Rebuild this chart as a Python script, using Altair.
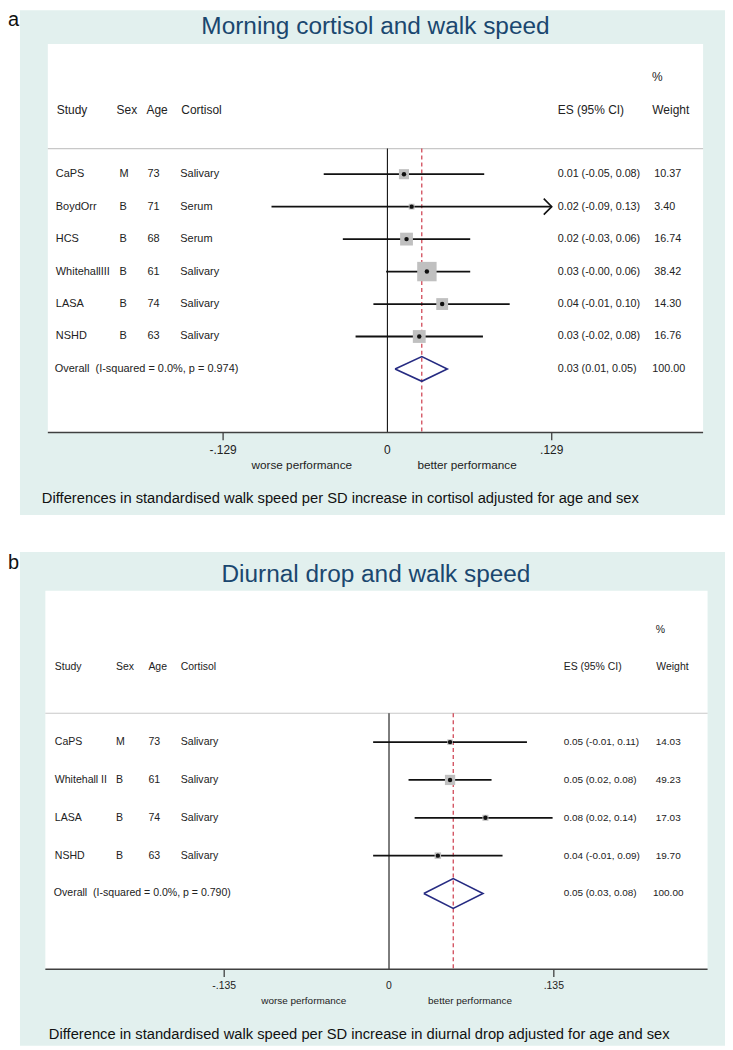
import altair as alt
import pandas as pd

GREEN = "#e2f0ee"
TITLE_BLUE = "#1a476f"
NAVY = "#262b82"
RED = "#c8283a"
BOX_GREY = "#c0c0c0"
FONT = "Liberation Sans"

# ---------------- Panel a data ----------------
a_title = "Morning cortisol and walk speed"
a_letter = "a"
a_study = ["CaPS", "BoydOrr", "HCS", "WhitehallIII", "LASA", "NSHD"]
a_sex = ["M", "B", "B", "B", "B", "B"]
a_age = ["73", "71", "68", "61", "74", "63"]
a_cortisol = ["Salivary", "Serum", "Serum", "Salivary", "Salivary", "Salivary"]
a_es = [0.013, 0.019, 0.015, 0.031, 0.043, 0.025]
a_lo = [-0.050, -0.091, -0.035, -0.001, -0.011, -0.025]
a_hi = [0.076, 0.131, 0.065, 0.065, 0.096, 0.075]
a_weight = [10.37, 3.40, 16.74, 38.42, 14.30, 16.76]
a_es_text = ["0.01 (-0.05, 0.08)", "0.02 (-0.09, 0.13)", "0.02 (-0.03, 0.06)",
             "0.03 (-0.00, 0.06)", "0.04 (-0.01, 0.10)", "0.03 (-0.02, 0.08)"]
a_overall = [0.027, 0.006, 0.047]
a_overall_text = "0.03 (0.01, 0.05)"
a_overall_weight = "100.00"
a_het = "Overall\u00a0 (I-squared = 0.0%, p = 0.974)"
a_ticks = [-0.129, 0.0, 0.129]
a_tick_labels = ["-.129", "0", ".129"]
a_footnote = "Differences in standardised walk speed per SD increase in cortisol adjusted for age and sex"

# ---------------- Panel b data ----------------
b_title = "Diurnal drop and walk speed"
b_letter = "b"
b_study = ["CaPS", "Whitehall II", "LASA", "NSHD"]
b_sex = ["M", "B", "B", "B"]
b_age = ["73", "61", "74", "63"]
b_cortisol = ["Salivary", "Salivary", "Salivary", "Salivary"]
b_es = [0.050, 0.050, 0.079, 0.040]
b_lo = [-0.013, 0.016, 0.021, -0.013]
b_hi = [0.113, 0.084, 0.134, 0.093]
b_weight = [14.03, 49.23, 17.03, 19.70]
b_es_text = ["0.05 (-0.01, 0.11)", "0.05 (0.02, 0.08)", "0.08 (0.02, 0.14)", "0.04 (-0.01, 0.09)"]
b_overall = [0.0526, 0.0285, 0.077]
b_overall_text = "0.05 (0.03, 0.08)"
b_overall_weight = "100.00"
b_het = "Overall\u00a0 (I-squared = 0.0%, p = 0.790)"
b_ticks = [-0.135, 0.0, 0.135]
b_tick_labels = ["-.135", "0", ".135"]
b_footnote = "Difference in standardised walk speed per SD increase in diurnal drop adjusted for age and sex"

headers = ["Study", "Sex", "Age", "Cortisol"]
perf_labels = ["worse performance", "better performance"]

# ---------------- layout (pixels, view coordinates) ----------------
LAY_A = dict(W=708, H=507, white=(28, 686, 34, 424), title_x=357, title_y=17, title_size=24.5,
             letter_y=10, pct_y=67, head_y=100, hline_y=139, axis_y=424, tick_y=442, perf_y=457,
             perf_x=(283, 449), foot_x=22, foot_y=491, foot_size=14.8, rows=(164.7, 360.3),
             xrange=(204, 534), cols=(36, 100, 128, 161), head_cols=(37, 97, 127, 162),
             es_x=540, w_x=637, w_align="left", pct_x=640, weight_head_x=635,
             row_size=11, head_size=12, es_size=10.8, tick_size=12, perf_size=11.8,
             box_k=9.9, dia_h=0.38)
LAY_B = dict(W=708, H=496, white=(25.5, 690.5, 39, 419), title_x=357.5, title_y=23, title_size=24.5,
             letter_y=11, pct_y=78, head_y=116, hline_y=162, axis_y=419, tick_y=436, perf_y=451,
             perf_x=(285, 452), foot_x=29, foot_y=485, foot_size=14.8, rows=(191, 343),
             xrange=(205.1, 536.1), cols=(35, 96.5, 129, 161.5), head_cols=(35, 96.5, 129, 161.5),
             es_x=546, w_x=651, w_align="center", pct_x=643, weight_head_x=639,
             row_size=10.6, head_size=10.5, es_size=10, tick_size=10.5, perf_size=10,
             box_k=2.155, dia_h=0.395)


def panel(title, letter, study, sex, age, cort, es, lo, hi, weight, es_text, overall,
          overall_text, overall_weight, het, ticks, tick_labels, footnote, L):
    n = len(study)
    tmax = max(ticks)
    xs = alt.Scale(domain=[-tmax, tmax], range=list(L["xrange"]), nice=False, zero=False)
    ys = alt.Scale(domain=[0, n], range=list(L["rows"]), nice=False, zero=False)
    one = pd.DataFrame({"d": [0]})

    df = pd.DataFrame({"study": study, "sex": sex, "age": age, "cort": cort, "es": es,
                       "lo": lo, "hi": hi, "weight": weight, "es_text": es_text,
                       "row": list(range(n))})
    df["hi_c"] = [min(h, tmax) for h in hi]
    arrows = df[df["hi"] > tmax]

    x0, x1, y0, y1 = L["white"]
    layers = []
    layers.append(alt.Chart(one).mark_rect(color="white").encode(
        x=alt.value(x0), x2=alt.value(x1), y=alt.value(y0), y2=alt.value(y1)))
    layers.append(alt.Chart(one).mark_rule(color="#c8c8c8", strokeWidth=1.2).encode(
        x=alt.value(x0), x2=alt.value(x1), y=alt.value(L["hline_y"])))
    # zero line
    layers.append(alt.Chart(pd.DataFrame({"z": [0.0]})).mark_rule(color="#111", strokeWidth=1.1).encode(
        x=alt.X("z:Q", scale=xs, axis=None), y=alt.value(L["hline_y"]), y2=alt.value(L["axis_y"])))
    # overall dashed line
    ov = pd.DataFrame({"es": [overall[0]], "lo": [overall[1]], "hi": [overall[2]]})
    layers.append(alt.Chart(ov).mark_rule(color=RED, strokeWidth=1.1, strokeDash=[4, 3]).encode(
        x=alt.X("es:Q", scale=xs, axis=None), y=alt.value(L["hline_y"]), y2=alt.value(L["axis_y"])))
    # axis line, ticks and labels
    layers.append(alt.Chart(one).mark_rule(color="#404040", strokeWidth=1.5).encode(
        x=alt.value(x0), x2=alt.value(x1), y=alt.value(L["axis_y"])))
    tdf = pd.DataFrame({"t": ticks, "lab": tick_labels})
    layers.append(alt.Chart(tdf).transform_filter("datum.t != 0").mark_rule(
        color="#404040", strokeWidth=1.3).encode(
        x=alt.X("t:Q", scale=xs, axis=None), y=alt.value(L["axis_y"]), y2=alt.value(L["axis_y"] + 8)))
    layers.append(alt.Chart(tdf).mark_text(fontSize=L["tick_size"], color="#222", baseline="middle").encode(
        x=alt.X("t:Q", scale=xs, axis=None), y=alt.value(L["tick_y"]), text="lab:N"))
    for lab, px in zip(perf_labels, L["perf_x"]):
        layers.append(alt.Chart(pd.DataFrame({"lab": [lab]})).mark_text(
            fontSize=L["perf_size"], color="#222", baseline="middle").encode(
            x=alt.value(px), y=alt.value(L["perf_y"]), text="lab:N"))
    # footnote, title, letter
    layers.append(alt.Chart(pd.DataFrame({"lab": [footnote]})).mark_text(
        fontSize=L["foot_size"], color="#111", align="left", baseline="middle").encode(
        x=alt.value(L["foot_x"]), y=alt.value(L["foot_y"]), text="lab:N"))
    layers.append(alt.Chart(pd.DataFrame({"lab": [title]})).mark_text(
        fontSize=L["title_size"], color=TITLE_BLUE, baseline="middle").encode(
        x=alt.value(L["title_x"]), y=alt.value(L["title_y"]), text="lab:N"))
    layers.append(alt.Chart(pd.DataFrame({"lab": [letter]})).mark_text(
        fontSize=20, color="#111", align="left", baseline="middle").encode(
        x=alt.value(-12), y=alt.value(L["letter_y"]), text="lab:N"))
    # headers
    for lab, px in zip(headers, L["head_cols"]):
        layers.append(alt.Chart(pd.DataFrame({"lab": [lab]})).mark_text(
            fontSize=L["head_size"], color="#222", align="left", baseline="middle").encode(
            x=alt.value(px), y=alt.value(L["head_y"]), text="lab:N"))
    layers.append(alt.Chart(pd.DataFrame({"lab": ["ES (95% CI)"]})).mark_text(
        fontSize=L["head_size"], color="#222", align="left", baseline="middle").encode(
        x=alt.value(L["es_x"]), y=alt.value(L["head_y"]), text="lab:N"))
    layers.append(alt.Chart(pd.DataFrame({"lab": ["Weight"]})).mark_text(
        fontSize=L["head_size"], color="#222", align="left", baseline="middle").encode(
        x=alt.value(L["weight_head_x"]), y=alt.value(L["head_y"]), text="lab:N"))
    layers.append(alt.Chart(pd.DataFrame({"lab": ["%"]})).mark_text(
        fontSize=L["head_size"], color="#222", baseline="middle").encode(
        x=alt.value(L["pct_x"]), y=alt.value(L["pct_y"]), text="lab:N"))
    # row texts
    base = alt.Chart(df)
    for field, px in zip(["study", "sex", "age", "cort"], L["cols"]):
        layers.append(base.mark_text(fontSize=L["row_size"], color="#222", align="left",
                                     baseline="middle").encode(
            x=alt.value(px), y=alt.Y("row:Q", scale=ys, axis=None), text=f"{field}:N"))
    layers.append(base.mark_text(fontSize=L["es_size"], color="#222", align="left",
                                 baseline="middle").encode(
        x=alt.value(L["es_x"]), y=alt.Y("row:Q", scale=ys, axis=None), text="es_text:N"))
    layers.append(base.mark_text(fontSize=L["es_size"], color="#222", align=L["w_align"],
                                 baseline="middle").encode(
        x=alt.value(L["w_x"]), y=alt.Y("row:Q", scale=ys, axis=None),
        text=alt.Text("weight:Q", format=".2f")))
    # CI lines, boxes, dots, arrows
    layers.append(base.mark_rule(color="#111", strokeWidth=1.8).encode(
        x=alt.X("lo:Q", scale=xs, axis=None), x2="hi_c:Q", y=alt.Y("row:Q", scale=ys, axis=None)))
    layers.append(base.mark_square(color=BOX_GREY, opacity=1).encode(
        x=alt.X("es:Q", scale=xs, axis=None), y=alt.Y("row:Q", scale=ys, axis=None),
        size=alt.Size("weight:Q", scale=alt.Scale(domain=[0, 100], range=[0, 100 * L["box_k"]]),
                      legend=None)))
    layers.append(base.mark_circle(color="#111", opacity=1, size=20).encode(
        x=alt.X("es:Q", scale=xs, axis=None), y=alt.Y("row:Q", scale=ys, axis=None)))
    if len(arrows):
        layers.append(alt.Chart(arrows).mark_point(
            shape="M-1,-1L0,0L-1,1", filled=False, color="#111", strokeWidth=1.6, size=256,
            opacity=1).encode(
            x=alt.X("hi_c:Q", scale=xs, axis=None), y=alt.Y("row:Q", scale=ys, axis=None)))
    # overall diamond and texts
    h = L["dia_h"]
    dia = pd.DataFrame({"x": [overall[1], overall[0], overall[2], overall[0], overall[1]],
                        "y": [n, n - h, n, n + h, n], "o": [0, 1, 2, 3, 4]})
    layers.append(alt.Chart(dia).mark_line(color=NAVY, strokeWidth=1.6, strokeJoin="miter").encode(
        x=alt.X("x:Q", scale=xs, axis=None), y=alt.Y("y:Q", scale=ys, axis=None), order="o:Q"))
    otx = pd.DataFrame({"row": [n], "het": [het], "es_text": [overall_text], "w": [overall_weight]})
    ob = alt.Chart(otx)
    layers.append(ob.mark_text(fontSize=L["row_size"], color="#222", align="left", baseline="middle").encode(
        x=alt.value(L["cols"][0] - 1), y=alt.Y("row:Q", scale=ys, axis=None), text="het:N"))
    layers.append(ob.mark_text(fontSize=L["es_size"], color="#222", align="left", baseline="middle").encode(
        x=alt.value(L["es_x"]), y=alt.Y("row:Q", scale=ys, axis=None), text="es_text:N"))
    layers.append(ob.mark_text(fontSize=L["es_size"], color="#222", align=L["w_align"], baseline="middle").encode(
        x=alt.value(L["w_x"] - (2 if L["w_align"] == "left" else 0)), y=alt.Y("row:Q", scale=ys, axis=None),
        text="w:N"))

    return alt.layer(*layers).properties(width=L["W"], height=L["H"])


pa = panel(a_title, a_letter, a_study, a_sex, a_age, a_cortisol, a_es, a_lo, a_hi, a_weight,
           a_es_text, a_overall, a_overall_text, a_overall_weight, a_het, a_ticks, a_tick_labels,
           a_footnote, LAY_A)
pb = panel(b_title, b_letter, b_study, b_sex, b_age, b_cortisol, b_es, b_lo, b_hi, b_weight,
           b_es_text, b_overall, b_overall_text, b_overall_weight, b_het, b_ticks, b_tick_labels,
           b_footnote, LAY_B)

chart = alt.vconcat(pa, pb, spacing=37).resolve_scale(
    x="independent", y="independent", size="independent"
).properties(
    padding=0, background="white"
).configure_view(stroke=None, fill=GREEN).configure_text(font=FONT)

chart.save("out.html", embed_options={"renderer": "svg", "actions": False})
